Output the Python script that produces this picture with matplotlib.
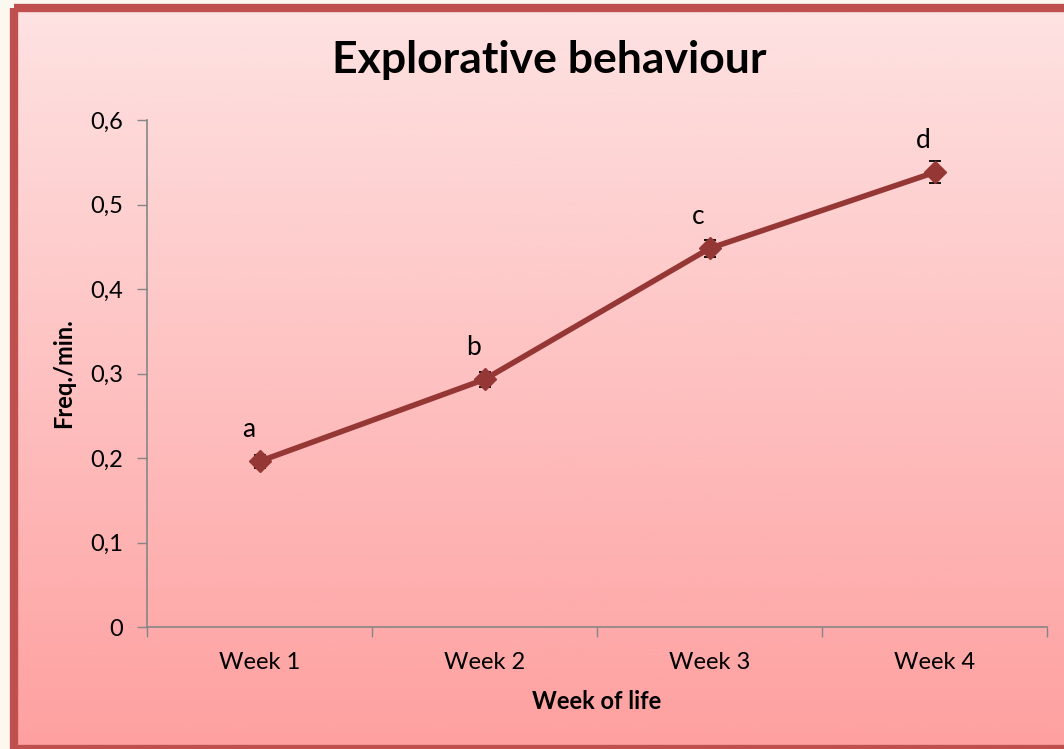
import numpy as np
import matplotlib
matplotlib.use("Agg")
import matplotlib.pyplot as plt
from matplotlib.patches import Rectangle
from matplotlib.transforms import offset_copy

weeks = ["Week 1", "Week 2", "Week 3", "Week 4"]
freq = [0.196, 0.293, 0.448, 0.538]
err = [0.008, 0.009, 0.010, 0.013]
letters = ["a", "b", "c", "d"]

plt.rcParams['font.family'] = ['Lato', 'DejaVu Sans']

W, H = 1064, 749
fig = plt.figure(figsize=(W / 100, H / 100), dpi=100)
fig.patch.set_facecolor("#fbf8f0")

# background gradient panel
bg = fig.add_axes([0, 0, 1, 1])
bg.set_xlim(0, W)
bg.set_ylim(H, 0)
bg.axis("off")
top = np.array([0xfe, 0xe2, 0xe2]) / 255
bot = np.array([0xfe, 0xa0, 0xa0]) / 255
t = np.linspace(0, 1, 256)[:, None]
grad = (top[None, :] * (1 - t) + bot[None, :] * t)[:, None, :]
bg.imshow(grad, extent=[18, W + 10, 745, 12], aspect="auto", zorder=0)
bg.add_patch(Rectangle((14, 8), W + 20, 741, fill=False, edgecolor="#c0504d", linewidth=6, zorder=1))

# plot axes: x 147..1047, y 120..627
ax = fig.add_axes([147 / W, 1 - 627 / H, 900 / W, 507 / H])
ax.patch.set_alpha(0)
x = np.arange(len(weeks))
ax.errorbar(x, freq, yerr=err, color="#953735", linewidth=4, marker="D", markersize=11,
            ecolor="black", elinewidth=1.3, capsize=4.5, capthick=1.3, zorder=3)
trans = offset_copy(ax.transData, fig=fig, x=-11, y=32, units="dots")
for xi, yi, lab in zip(x, freq, letters):
    ax.text(xi, yi, lab, transform=trans, ha="center", va="center", fontsize=19, color="black")

ax.set_xlim(-0.5, 3.5)
ax.set_ylim(0, 0.6)
yt = np.arange(0, 0.61, 0.1)
ax.set_yticks(yt)
ax.set_yticklabels(["0" if v == 0 else f"{v:.1f}".replace(".", ",") for v in yt])
ax.set_xticks(x)
ax.set_xticklabels(weeks)
ax.set_xticks(np.arange(-0.5, 3.6, 1), minor=True)
ax.tick_params(axis="x", which="major", length=0, pad=18, labelsize=17)
ax.tick_params(axis="x", which="minor", length=7, color="#868686", width=1)
ax.tick_params(axis="y", length=7, color="#868686", width=1, labelsize=17, pad=10)
for s in ["top", "right"]:
    ax.spines[s].set_visible(False)
for s in ["left", "bottom"]:
    ax.spines[s].set_color("#868686")
    ax.spines[s].set_linewidth(1.2)

ax.set_xlabel("Week of life", fontsize=17, fontweight="bold", labelpad=12)
ax.set_ylabel("Freq./min.", fontsize=17, fontweight="bold", labelpad=11)
fig.text(549 / W, 1 - 60 / H, "Explorative behaviour", ha="center", va="center",
         fontsize=32, fontweight="bold")

fig.savefig("out.png", dpi=100, facecolor=fig.get_facecolor())
